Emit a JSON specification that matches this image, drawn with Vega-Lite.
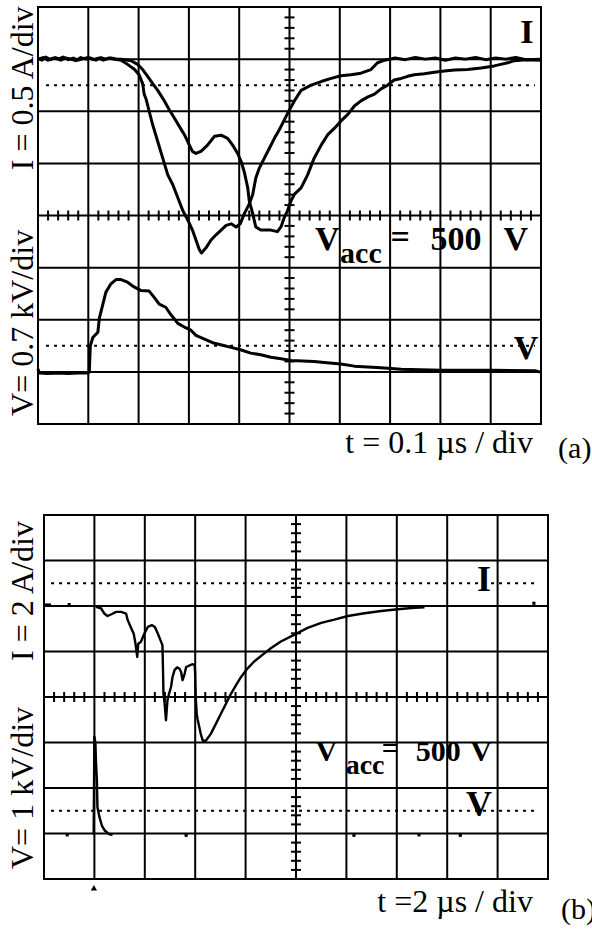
{
  "$schema": "https://vega.github.io/schema/vega-lite/v6.json",
  "padding": {"left": 6, "top": 5, "right": 0, "bottom": 0},
  "background": "white",
  "bounds": "flush",
  "spacing": 91,
  "config": {"view": {"stroke": null}, "text": {"font": "Liberation Serif", "color": "black"}},
  "datasets": {
    "gx": [{"x":0},{"x":1},{"x":2},{"x":3},{"x":4},{"x":5},{"x":6},{"x":7},{"x":8},{"x":9},{"x":10}],
    "gy": [{"y":0,"x":0,"x2":10},{"y":1,"x":0,"x2":10},{"y":2,"x":0,"x2":10},{"y":3,"x":0,"x2":10},{"y":4,"x":0,"x2":10},{"y":5,"x":0,"x2":10},{"y":6,"x":0,"x2":10},{"y":7,"x":0,"x2":10},{"y":8,"x":0,"x2":10}],
    "dotsA": [{"y":6.5,"x":0.16,"x2":9.88},{"y":1.5,"x":0.16,"x2":9.88}],
    "dotsB": [{"y":6.5,"x":0.14,"x2":9.8},{"y":1.5,"x":0.14,"x2":9.8}],
    "tv": [{"x":5,"y":0.2},{"x":5,"y":0.4},{"x":5,"y":0.6},{"x":5,"y":0.8},{"x":5,"y":1.2},{"x":5,"y":1.4},{"x":5,"y":1.6},{"x":5,"y":1.8},{"x":5,"y":2.2},{"x":5,"y":2.4},{"x":5,"y":2.6},{"x":5,"y":2.8},{"x":5,"y":3.2},{"x":5,"y":3.4},{"x":5,"y":3.6},{"x":5,"y":3.8},{"x":5,"y":4.2},{"x":5,"y":4.4},{"x":5,"y":4.6},{"x":5,"y":4.8},{"x":5,"y":5.2},{"x":5,"y":5.4},{"x":5,"y":5.6},{"x":5,"y":5.8},{"x":5,"y":6.2},{"x":5,"y":6.4},{"x":5,"y":6.6},{"x":5,"y":6.8},{"x":5,"y":7.2},{"x":5,"y":7.4},{"x":5,"y":7.6},{"x":5,"y":7.8}],
    "th": [{"y":4,"x":0.2},{"y":4,"x":0.4},{"y":4,"x":0.6},{"y":4,"x":0.8},{"y":4,"x":1.2},{"y":4,"x":1.4},{"y":4,"x":1.6},{"y":4,"x":1.8},{"y":4,"x":2.2},{"y":4,"x":2.4},{"y":4,"x":2.6},{"y":4,"x":2.8},{"y":4,"x":3.2},{"y":4,"x":3.4},{"y":4,"x":3.6},{"y":4,"x":3.8},{"y":4,"x":4.2},{"y":4,"x":4.4},{"y":4,"x":4.6},{"y":4,"x":4.8},{"y":4,"x":5.2},{"y":4,"x":5.4},{"y":4,"x":5.6},{"y":4,"x":5.8},{"y":4,"x":6.2},{"y":4,"x":6.4},{"y":4,"x":6.6},{"y":4,"x":6.8},{"y":4,"x":7.2},{"y":4,"x":7.4},{"y":4,"x":7.6},{"y":4,"x":7.8},{"y":4,"x":8.2},{"y":4,"x":8.4},{"y":4,"x":8.6},{"y":4,"x":8.8},{"y":4,"x":9.2},{"y":4,"x":9.4},{"y":4,"x":9.6},{"y":4,"x":9.8}],
    "trA": [
      {"s":"Ia","x":0,"y":7.02},{"s":"Ia","x":0.08,"y":6.98},{"s":"Ia","x":0.15,"y":7.04},{"s":"Ia","x":0.25,"y":6.99},{"s":"Ia","x":0.35,"y":7.03},{"s":"Ia","x":0.45,"y":6.98},{"s":"Ia","x":0.55,"y":7.02},{"s":"Ia","x":0.65,"y":7.0},{"s":"Ia","x":0.75,"y":6.97},{"s":"Ia","x":0.85,"y":7.03},{"s":"Ia","x":0.95,"y":7.0},{"s":"Ia","x":1.05,"y":7.02},{"s":"Ia","x":1.15,"y":6.98},{"s":"Ia","x":1.25,"y":7.03},{"s":"Ia","x":1.35,"y":7.0},{"s":"Ia","x":1.45,"y":7.02},{"s":"Ia","x":1.58,"y":7.0},{"s":"Ia","x":1.65,"y":7.0},{"s":"Ia","x":1.85,"y":6.97},{"s":"Ia","x":1.98,"y":6.9},{"s":"Ia","x":2.08,"y":6.8},{"s":"Ia","x":2.18,"y":6.67},{"s":"Ia","x":2.28,"y":6.53},{"s":"Ia","x":2.38,"y":6.4},{"s":"Ia","x":2.51,"y":6.2},{"s":"Ia","x":2.61,"y":6.03},{"s":"Ia","x":2.71,"y":5.87},{"s":"Ia","x":2.81,"y":5.71},{"s":"Ia","x":2.91,"y":5.55},{"s":"Ia","x":3.01,"y":5.35},{"s":"Ia","x":3.07,"y":5.23},{"s":"Ia","x":3.14,"y":5.19},{"s":"Ia","x":3.24,"y":5.23},{"s":"Ia","x":3.37,"y":5.35},{"s":"Ia","x":3.51,"y":5.52},{"s":"Ia","x":3.64,"y":5.54},{"s":"Ia","x":3.77,"y":5.48},{"s":"Ia","x":3.87,"y":5.35},{"s":"Ia","x":3.97,"y":5.19},{"s":"Ia","x":4.04,"y":5.03},{"s":"Ia","x":4.1,"y":4.84},{"s":"Ia","x":4.17,"y":4.53},{"s":"Ia","x":4.2,"y":4.28},{"s":"Ia","x":4.27,"y":4.03},{"s":"Ia","x":4.33,"y":3.78},{"s":"Ia","x":4.43,"y":3.72},{"s":"Ia","x":4.63,"y":3.72},{"s":"Ia","x":4.76,"y":3.69},{"s":"Ia","x":4.83,"y":3.78},{"s":"Ia","x":4.9,"y":3.97},{"s":"Ia","x":4.96,"y":4.09},{"s":"Ia","x":5.03,"y":4.28},{"s":"Ia","x":5.1,"y":4.41},{"s":"Ia","x":5.23,"y":4.53},{"s":"Ia","x":5.36,"y":4.78},{"s":"Ia","x":5.49,"y":5.1},{"s":"Ia","x":5.63,"y":5.35},{"s":"Ia","x":5.76,"y":5.55},{"s":"Ia","x":5.89,"y":5.67},{"s":"Ia","x":6.02,"y":5.81},{"s":"Ia","x":6.16,"y":5.94},{"s":"Ia","x":6.29,"y":6.1},{"s":"Ia","x":6.42,"y":6.2},{"s":"Ia","x":6.55,"y":6.27},{"s":"Ia","x":6.69,"y":6.33},{"s":"Ia","x":6.82,"y":6.43},{"s":"Ia","x":6.95,"y":6.5},{"s":"Ia","x":7.08,"y":6.6},{"s":"Ia","x":7.22,"y":6.63},{"s":"Ia","x":7.35,"y":6.67},{"s":"Ia","x":7.48,"y":6.7},{"s":"Ia","x":7.68,"y":6.72},{"s":"Ia","x":7.88,"y":6.75},{"s":"Ia","x":8.08,"y":6.77},{"s":"Ia","x":8.28,"y":6.79},{"s":"Ia","x":8.54,"y":6.8},{"s":"Ia","x":8.81,"y":6.83},{"s":"Ia","x":9.07,"y":6.87},{"s":"Ia","x":9.2,"y":6.9},{"s":"Ia","x":9.34,"y":6.93},{"s":"Ia","x":9.47,"y":6.97},{"s":"Ia","x":9.7,"y":6.99},{"s":"Ia","x":10.0,"y":6.98},
      {"s":"Ib","x":0,"y":7.0},{"s":"Ib","x":0.1,"y":7.03},{"s":"Ib","x":0.2,"y":6.98},{"s":"Ib","x":0.3,"y":7.02},{"s":"Ib","x":0.4,"y":7.0},{"s":"Ib","x":0.5,"y":7.04},{"s":"Ib","x":0.6,"y":6.99},{"s":"Ib","x":0.7,"y":7.02},{"s":"Ib","x":0.8,"y":6.98},{"s":"Ib","x":0.9,"y":7.01},{"s":"Ib","x":1.0,"y":7.03},{"s":"Ib","x":1.1,"y":6.99},{"s":"Ib","x":1.2,"y":7.02},{"s":"Ib","x":1.3,"y":6.98},{"s":"Ib","x":1.4,"y":7.02},{"s":"Ib","x":1.5,"y":7.0},{"s":"Ib","x":1.65,"y":6.98},{"s":"Ib","x":1.78,"y":6.9},{"s":"Ib","x":1.92,"y":6.8},{"s":"Ib","x":2.01,"y":6.7},{"s":"Ib","x":2.08,"y":6.53},{"s":"Ib","x":2.11,"y":6.33},{"s":"Ib","x":2.15,"y":6.23},{"s":"Ib","x":2.21,"y":6.0},{"s":"Ib","x":2.28,"y":5.74},{"s":"Ib","x":2.38,"y":5.42},{"s":"Ib","x":2.48,"y":5.1},{"s":"Ib","x":2.58,"y":4.78},{"s":"Ib","x":2.68,"y":4.59},{"s":"Ib","x":2.78,"y":4.34},{"s":"Ib","x":2.88,"y":4.09},{"s":"Ib","x":2.98,"y":3.91},{"s":"Ib","x":3.07,"y":3.72},{"s":"Ib","x":3.14,"y":3.53},{"s":"Ib","x":3.21,"y":3.34},{"s":"Ib","x":3.25,"y":3.28},{"s":"Ib","x":3.34,"y":3.38},{"s":"Ib","x":3.44,"y":3.53},{"s":"Ib","x":3.54,"y":3.63},{"s":"Ib","x":3.64,"y":3.72},{"s":"Ib","x":3.74,"y":3.81},{"s":"Ib","x":3.84,"y":3.84},{"s":"Ib","x":3.94,"y":3.78},{"s":"Ib","x":4.02,"y":3.84},{"s":"Ib","x":4.1,"y":4.03},{"s":"Ib","x":4.2,"y":4.22},{"s":"Ib","x":4.27,"y":4.41},{"s":"Ib","x":4.33,"y":4.72},{"s":"Ib","x":4.4,"y":4.91},{"s":"Ib","x":4.5,"y":5.1},{"s":"Ib","x":4.6,"y":5.29},{"s":"Ib","x":4.7,"y":5.48},{"s":"Ib","x":4.8,"y":5.65},{"s":"Ib","x":4.9,"y":5.84},{"s":"Ib","x":5.0,"y":6.03},{"s":"Ib","x":5.1,"y":6.2},{"s":"Ib","x":5.23,"y":6.4},{"s":"Ib","x":5.43,"y":6.5},{"s":"Ib","x":5.63,"y":6.57},{"s":"Ib","x":5.83,"y":6.63},{"s":"Ib","x":6.02,"y":6.68},{"s":"Ib","x":6.22,"y":6.7},{"s":"Ib","x":6.42,"y":6.73},{"s":"Ib","x":6.62,"y":6.8},{"s":"Ib","x":6.75,"y":6.93},{"s":"Ib","x":6.89,"y":6.98},{"s":"Ib","x":7.1,"y":7.02},{"s":"Ib","x":7.3,"y":6.99},{"s":"Ib","x":7.5,"y":7.03},{"s":"Ib","x":7.7,"y":7.0},{"s":"Ib","x":7.9,"y":7.02},{"s":"Ib","x":8.1,"y":6.98},{"s":"Ib","x":8.3,"y":7.02},{"s":"Ib","x":8.5,"y":7.0},{"s":"Ib","x":8.7,"y":7.03},{"s":"Ib","x":8.9,"y":6.99},{"s":"Ib","x":9.1,"y":7.02},{"s":"Ib","x":9.3,"y":7.0},{"s":"Ib","x":9.5,"y":7.03},{"s":"Ib","x":9.7,"y":6.99},{"s":"Ib","x":10.0,"y":7.0},
      {"s":"V","x":0,"y":1.06},{"s":"V","x":0.02,"y":0.98},{"s":"V","x":0.2,"y":0.97},{"s":"V","x":0.4,"y":0.98},{"s":"V","x":0.6,"y":0.97},{"s":"V","x":0.8,"y":0.98},{"s":"V","x":1.0,"y":0.98},{"s":"V","x":1.02,"y":1.0},{"s":"V","x":1.04,"y":1.5},{"s":"V","x":1.09,"y":1.66},{"s":"V","x":1.19,"y":1.76},{"s":"V","x":1.22,"y":2.03},{"s":"V","x":1.29,"y":2.3},{"s":"V","x":1.35,"y":2.53},{"s":"V","x":1.45,"y":2.69},{"s":"V","x":1.55,"y":2.77},{"s":"V","x":1.65,"y":2.77},{"s":"V","x":1.78,"y":2.72},{"s":"V","x":1.91,"y":2.63},{"s":"V","x":2.05,"y":2.56},{"s":"V","x":2.21,"y":2.55},{"s":"V","x":2.31,"y":2.43},{"s":"V","x":2.41,"y":2.3},{"s":"V","x":2.54,"y":2.24},{"s":"V","x":2.64,"y":2.1},{"s":"V","x":2.78,"y":1.93},{"s":"V","x":2.91,"y":1.86},{"s":"V","x":3.04,"y":1.8},{"s":"V","x":3.14,"y":1.7},{"s":"V","x":3.31,"y":1.63},{"s":"V","x":3.47,"y":1.56},{"s":"V","x":3.67,"y":1.51},{"s":"V","x":3.84,"y":1.47},{"s":"V","x":4.04,"y":1.42},{"s":"V","x":4.23,"y":1.36},{"s":"V","x":4.43,"y":1.33},{"s":"V","x":4.63,"y":1.28},{"s":"V","x":4.83,"y":1.25},{"s":"V","x":5.03,"y":1.22},{"s":"V","x":5.49,"y":1.2},{"s":"V","x":5.69,"y":1.18},{"s":"V","x":6.02,"y":1.15},{"s":"V","x":6.29,"y":1.11},{"s":"V","x":6.82,"y":1.08},{"s":"V","x":7.22,"y":1.05},{"s":"V","x":8.01,"y":1.03},{"s":"V","x":9.07,"y":1.03},{"s":"V","x":9.9,"y":1.02},{"s":"V","x":10.0,"y":0.99}
    ],
    "trB": [
      {"s":"I0","x":0,"y":6.03},{"s":"I0","x":0.14,"y":6.03},
      {"s":"I","x":1.03,"y":5.98},{"s":"I","x":1.13,"y":5.95},{"s":"I","x":1.2,"y":5.83},{"s":"I","x":1.26,"y":5.78},{"s":"I","x":1.36,"y":5.83},{"s":"I","x":1.43,"y":5.87},{"s":"I","x":1.53,"y":5.87},{"s":"I","x":1.63,"y":5.83},{"s":"I","x":1.66,"y":5.69},{"s":"I","x":1.72,"y":5.54},{"s":"I","x":1.78,"y":5.39},{"s":"I","x":1.81,"y":5.21},{"s":"I","x":1.85,"y":4.88},{"s":"I","x":1.87,"y":5.17},{"s":"I","x":1.92,"y":5.21},{"s":"I","x":1.99,"y":5.39},{"s":"I","x":2.06,"y":5.54},{"s":"I","x":2.14,"y":5.58},{"s":"I","x":2.2,"y":5.54},{"s":"I","x":2.26,"y":5.39},{"s":"I","x":2.31,"y":5.25},{"s":"I","x":2.35,"y":5.14},{"s":"I","x":2.36,"y":4.66},{"s":"I","x":2.37,"y":4.07},{"s":"I","x":2.39,"y":3.89},{"s":"I","x":2.42,"y":3.49},{"s":"I","x":2.45,"y":3.93},{"s":"I","x":2.48,"y":4.07},{"s":"I","x":2.52,"y":4.22},{"s":"I","x":2.55,"y":4.44},{"s":"I","x":2.59,"y":4.59},{"s":"I","x":2.64,"y":4.65},{"s":"I","x":2.69,"y":4.62},{"s":"I","x":2.72,"y":4.55},{"s":"I","x":2.75,"y":4.37},{"s":"I","x":2.79,"y":4.51},{"s":"I","x":2.82,"y":4.66},{"s":"I","x":2.88,"y":4.69},{"s":"I","x":2.95,"y":4.72},{"s":"I","x":2.99,"y":4.7},{"s":"I","x":3.0,"y":4.5},{"s":"I","x":3.01,"y":4.0},{"s":"I","x":3.03,"y":3.63},{"s":"I","x":3.05,"y":3.5},{"s":"I","x":3.11,"y":3.19},{"s":"I","x":3.15,"y":3.04},{"s":"I","x":3.21,"y":3.04},{"s":"I","x":3.31,"y":3.19},{"s":"I","x":3.41,"y":3.41},{"s":"I","x":3.51,"y":3.63},{"s":"I","x":3.61,"y":3.85},{"s":"I","x":3.71,"y":4.07},{"s":"I","x":3.81,"y":4.26},{"s":"I","x":3.91,"y":4.44},{"s":"I","x":4.04,"y":4.63},{"s":"I","x":4.17,"y":4.78},{"s":"I","x":4.34,"y":4.93},{"s":"I","x":4.5,"y":5.07},{"s":"I","x":4.7,"y":5.22},{"s":"I","x":4.97,"y":5.37},{"s":"I","x":5.23,"y":5.52},{"s":"I","x":5.5,"y":5.63},{"s":"I","x":5.76,"y":5.7},{"s":"I","x":6.03,"y":5.78},{"s":"I","x":6.36,"y":5.84},{"s":"I","x":6.69,"y":5.89},{"s":"I","x":7.02,"y":5.93},{"s":"I","x":7.35,"y":5.96},{"s":"I","x":7.55,"y":5.97},
      {"s":"V","x":0.985,"y":0.97},{"s":"V","x":1.0,"y":3.13},{"s":"V","x":1.02,"y":3.0},{"s":"V","x":1.03,"y":2.61},{"s":"V","x":1.05,"y":2.17},{"s":"V","x":1.06,"y":1.58},{"s":"V","x":1.1,"y":1.36},{"s":"V","x":1.15,"y":1.17},{"s":"V","x":1.21,"y":1.06},{"s":"V","x":1.3,"y":0.98},{"s":"V","x":1.36,"y":0.97}
    ],
    "ptsB": [{"x":0.5,"y":6.03},{"x":9.72,"y":6.06},{"x":0.46,"y":0.97},{"x":2.82,"y":0.96},{"x":6.15,"y":0.96},{"x":7.44,"y":0.97},{"x":8.26,"y":0.96}],
    "trigB": [{"x":0.99,"y":-0.19}],
    "rotA": [{"x":-0.1,"y":6.44,"t":"I = 0.5 A/div"},{"x":-0.1,"y":1.94,"t":"V= 0.7 kV/div"}],
    "tA": [{"x":9.84,"y":-0.56,"t":"t = 0.1 µs / div"}],
    "pA": [{"x":10.34,"y":-0.65,"t":"(a)"}],
    "boldA": [{"x":9.72,"y":7.31,"t":"I"},{"x":5.75,"y":3.34,"t":"V"},{"x":7.2,"y":3.37,"t":"="},{"x":8.31,"y":3.34,"t":"500"},{"x":9.5,"y":3.34,"t":"V"},{"x":9.7,"y":1.24,"t":"V"}],
    "accA": [{"x":6.42,"y":3.09,"t":"acc"}],
    "rotB": [{"x":-0.218,"y":6.33,"t":"I = 2 A/div"},{"x":-0.218,"y":2.0,"t":"V= 1 kV/div"}],
    "tB": [{"x":9.7,"y":-0.725,"t":"t =2 µs / div"}],
    "pB": [{"x":10.26,"y":-0.88,"t":"(b)"}],
    "bigB": [{"x":8.73,"y":6.33,"t":"I"},{"x":8.63,"y":1.38,"t":"V"}],
    "boldB": [{"x":5.6,"y":2.59,"t":"V"},{"x":6.87,"y":2.66,"t":"="},{"x":7.82,"y":2.59,"t":"500"},{"x":8.67,"y":2.59,"t":"V"}],
    "accB": [{"x":6.37,"y":2.31,"t":"acc"}]
  },
  "vconcat": [
    {
      "width": 503,
      "height": 417,
      "layer": [
        {"data": {"name": "gx"}, "mark": {"type": "rule", "strokeWidth": 2, "color": "black", "strokeCap": "square"},
         "encoding": {"x": {"field": "x", "type": "quantitative", "scale": {"domain": [0, 10], "nice": false, "zero": false}, "axis": null}}},
        {"data": {"name": "gy"}, "mark": {"type": "rule", "strokeWidth": 2, "color": "black", "strokeCap": "square"},
         "encoding": {"x": {"field": "x", "type": "quantitative", "scale": {"domain": [0, 10], "nice": false, "zero": false}, "axis": null},
                      "x2": {"field": "x2"},
                      "y": {"field": "y", "type": "quantitative", "scale": {"domain": [0, 8], "nice": false, "zero": false}, "axis": null}}},
        {"data": {"name": "dotsA"}, "mark": {"type": "rule", "strokeDash": [3, 5], "strokeWidth": 2, "color": "black"},
         "encoding": {"x": {"field": "x", "type": "quantitative", "scale": {"domain": [0, 10], "nice": false, "zero": false}, "axis": null},
                      "x2": {"field": "x2"},
                      "y": {"field": "y", "type": "quantitative", "scale": {"domain": [0, 8], "nice": false, "zero": false}, "axis": null}}},
        {"data": {"name": "tv"}, "mark": {"type": "tick", "orient": "horizontal", "size": 10, "thickness": 2, "color": "black", "opacity": 1},
         "encoding": {"x": {"field": "x", "type": "quantitative", "scale": {"domain": [0, 10], "nice": false, "zero": false}, "axis": null},
                      "y": {"field": "y", "type": "quantitative", "scale": {"domain": [0, 8], "nice": false, "zero": false}, "axis": null}}},
        {"data": {"name": "th"}, "mark": {"type": "tick", "orient": "vertical", "size": 10, "thickness": 2, "color": "black", "opacity": 1},
         "encoding": {"x": {"field": "x", "type": "quantitative", "scale": {"domain": [0, 10], "nice": false, "zero": false}, "axis": null},
                      "y": {"field": "y", "type": "quantitative", "scale": {"domain": [0, 8], "nice": false, "zero": false}, "axis": null}}},
        {"data": {"name": "trA"}, "mark": {"type": "line", "color": "black", "strokeWidth": 3, "strokeJoin": "round"},
         "encoding": {"x": {"field": "x", "type": "quantitative", "scale": {"domain": [0, 10], "nice": false, "zero": false}, "axis": null},
                      "y": {"field": "y", "type": "quantitative", "scale": {"domain": [0, 8], "nice": false, "zero": false}, "axis": null},
                      "detail": {"field": "s"}}},
        {"data": {"name": "rotA"}, "mark": {"type": "text", "angle": 270, "fontSize": 32, "align": "center", "baseline": "alphabetic"},
         "encoding": {"x": {"field": "x", "type": "quantitative", "scale": {"domain": [0, 10], "nice": false, "zero": false}, "axis": null},
                      "y": {"field": "y", "type": "quantitative", "scale": {"domain": [0, 8], "nice": false, "zero": false}, "axis": null},
                      "text": {"field": "t"}}},
        {"data": {"name": "tA"}, "mark": {"type": "text", "fontSize": 32, "align": "right", "baseline": "alphabetic"},
         "encoding": {"x": {"field": "x", "type": "quantitative", "scale": {"domain": [0, 10], "nice": false, "zero": false}, "axis": null},
                      "y": {"field": "y", "type": "quantitative", "scale": {"domain": [0, 8], "nice": false, "zero": false}, "axis": null},
                      "text": {"field": "t"}}},
        {"data": {"name": "pA"}, "mark": {"type": "text", "fontSize": 30, "align": "left", "baseline": "alphabetic"},
         "encoding": {"x": {"field": "x", "type": "quantitative", "scale": {"domain": [0, 10], "nice": false, "zero": false}, "axis": null},
                      "y": {"field": "y", "type": "quantitative", "scale": {"domain": [0, 8], "nice": false, "zero": false}, "axis": null},
                      "text": {"field": "t"}}},
        {"data": {"name": "boldA"}, "mark": {"type": "text", "fontSize": 34, "fontWeight": "bold", "align": "center", "baseline": "alphabetic"},
         "encoding": {"x": {"field": "x", "type": "quantitative", "scale": {"domain": [0, 10], "nice": false, "zero": false}, "axis": null},
                      "y": {"field": "y", "type": "quantitative", "scale": {"domain": [0, 8], "nice": false, "zero": false}, "axis": null},
                      "text": {"field": "t"}}},
        {"data": {"name": "accA"}, "mark": {"type": "text", "fontSize": 30, "fontWeight": "bold", "align": "center", "baseline": "alphabetic"},
         "encoding": {"x": {"field": "x", "type": "quantitative", "scale": {"domain": [0, 10], "nice": false, "zero": false}, "axis": null},
                      "y": {"field": "y", "type": "quantitative", "scale": {"domain": [0, 8], "nice": false, "zero": false}, "axis": null},
                      "text": {"field": "t"}}}
      ]
    },
    {
      "width": 510,
      "height": 364,
      "layer": [
        {"data": {"name": "gx"}, "mark": {"type": "rule", "strokeWidth": 2, "color": "black", "strokeCap": "square"},
         "encoding": {"x": {"field": "x", "type": "quantitative", "scale": {"domain": [-0.119, 10], "nice": false, "zero": false}, "axis": null}}},
        {"data": {"name": "gy"}, "mark": {"type": "rule", "strokeWidth": 2, "color": "black", "strokeCap": "square"},
         "encoding": {"x": {"field": "x", "type": "quantitative", "scale": {"domain": [-0.119, 10], "nice": false, "zero": false}, "axis": null},
                      "x2": {"field": "x2"},
                      "y": {"field": "y", "type": "quantitative", "scale": {"domain": [0, 8], "nice": false, "zero": false}, "axis": null}}},
        {"data": {"name": "dotsB"}, "mark": {"type": "rule", "strokeDash": [3, 5], "strokeWidth": 2, "color": "black"},
         "encoding": {"x": {"field": "x", "type": "quantitative", "scale": {"domain": [-0.119, 10], "nice": false, "zero": false}, "axis": null},
                      "x2": {"field": "x2"},
                      "y": {"field": "y", "type": "quantitative", "scale": {"domain": [0, 8], "nice": false, "zero": false}, "axis": null}}},
        {"data": {"name": "tv"}, "mark": {"type": "tick", "orient": "horizontal", "size": 10, "thickness": 2, "color": "black", "opacity": 1},
         "encoding": {"x": {"field": "x", "type": "quantitative", "scale": {"domain": [-0.119, 10], "nice": false, "zero": false}, "axis": null},
                      "y": {"field": "y", "type": "quantitative", "scale": {"domain": [0, 8], "nice": false, "zero": false}, "axis": null}}},
        {"data": {"name": "th"}, "mark": {"type": "tick", "orient": "vertical", "size": 10, "thickness": 2, "color": "black", "opacity": 1},
         "encoding": {"x": {"field": "x", "type": "quantitative", "scale": {"domain": [-0.119, 10], "nice": false, "zero": false}, "axis": null},
                      "y": {"field": "y", "type": "quantitative", "scale": {"domain": [0, 8], "nice": false, "zero": false}, "axis": null}}},
        {"data": {"name": "trB"}, "mark": {"type": "line", "color": "black", "strokeWidth": 2.4, "strokeJoin": "round"},
         "encoding": {"x": {"field": "x", "type": "quantitative", "scale": {"domain": [-0.119, 10], "nice": false, "zero": false}, "axis": null},
                      "y": {"field": "y", "type": "quantitative", "scale": {"domain": [0, 8], "nice": false, "zero": false}, "axis": null},
                      "detail": {"field": "s"}}},
        {"data": {"name": "ptsB"}, "mark": {"type": "point", "shape": "square", "filled": true, "size": 10, "color": "black", "opacity": 1},
         "encoding": {"x": {"field": "x", "type": "quantitative", "scale": {"domain": [-0.119, 10], "nice": false, "zero": false}, "axis": null},
                      "y": {"field": "y", "type": "quantitative", "scale": {"domain": [0, 8], "nice": false, "zero": false}, "axis": null}}},
        {"data": {"name": "trigB"}, "mark": {"type": "point", "shape": "triangle-up", "filled": true, "size": 40, "color": "black", "opacity": 1},
         "encoding": {"x": {"field": "x", "type": "quantitative", "scale": {"domain": [-0.119, 10], "nice": false, "zero": false}, "axis": null},
                      "y": {"field": "y", "type": "quantitative", "scale": {"domain": [0, 8], "nice": false, "zero": false}, "axis": null}}},
        {"data": {"name": "rotB"}, "mark": {"type": "text", "angle": 270, "fontSize": 32, "align": "center", "baseline": "alphabetic"},
         "encoding": {"x": {"field": "x", "type": "quantitative", "scale": {"domain": [-0.119, 10], "nice": false, "zero": false}, "axis": null},
                      "y": {"field": "y", "type": "quantitative", "scale": {"domain": [0, 8], "nice": false, "zero": false}, "axis": null},
                      "text": {"field": "t"}}},
        {"data": {"name": "tB"}, "mark": {"type": "text", "fontSize": 32, "align": "right", "baseline": "alphabetic"},
         "encoding": {"x": {"field": "x", "type": "quantitative", "scale": {"domain": [-0.119, 10], "nice": false, "zero": false}, "axis": null},
                      "y": {"field": "y", "type": "quantitative", "scale": {"domain": [0, 8], "nice": false, "zero": false}, "axis": null},
                      "text": {"field": "t"}}},
        {"data": {"name": "pB"}, "mark": {"type": "text", "fontSize": 30, "align": "left", "baseline": "alphabetic"},
         "encoding": {"x": {"field": "x", "type": "quantitative", "scale": {"domain": [-0.119, 10], "nice": false, "zero": false}, "axis": null},
                      "y": {"field": "y", "type": "quantitative", "scale": {"domain": [0, 8], "nice": false, "zero": false}, "axis": null},
                      "text": {"field": "t"}}},
        {"data": {"name": "bigB"}, "mark": {"type": "text", "fontSize": 36, "fontWeight": "bold", "align": "center", "baseline": "alphabetic"},
         "encoding": {"x": {"field": "x", "type": "quantitative", "scale": {"domain": [-0.119, 10], "nice": false, "zero": false}, "axis": null},
                      "y": {"field": "y", "type": "quantitative", "scale": {"domain": [0, 8], "nice": false, "zero": false}, "axis": null},
                      "text": {"field": "t"}}},
        {"data": {"name": "boldB"}, "mark": {"type": "text", "fontSize": 30, "fontWeight": "bold", "align": "center", "baseline": "alphabetic"},
         "encoding": {"x": {"field": "x", "type": "quantitative", "scale": {"domain": [-0.119, 10], "nice": false, "zero": false}, "axis": null},
                      "y": {"field": "y", "type": "quantitative", "scale": {"domain": [0, 8], "nice": false, "zero": false}, "axis": null},
                      "text": {"field": "t"}}},
        {"data": {"name": "accB"}, "mark": {"type": "text", "fontSize": 28, "fontWeight": "bold", "align": "center", "baseline": "alphabetic"},
         "encoding": {"x": {"field": "x", "type": "quantitative", "scale": {"domain": [-0.119, 10], "nice": false, "zero": false}, "axis": null},
                      "y": {"field": "y", "type": "quantitative", "scale": {"domain": [0, 8], "nice": false, "zero": false}, "axis": null},
                      "text": {"field": "t"}}}
      ]
    }
  ]
}
